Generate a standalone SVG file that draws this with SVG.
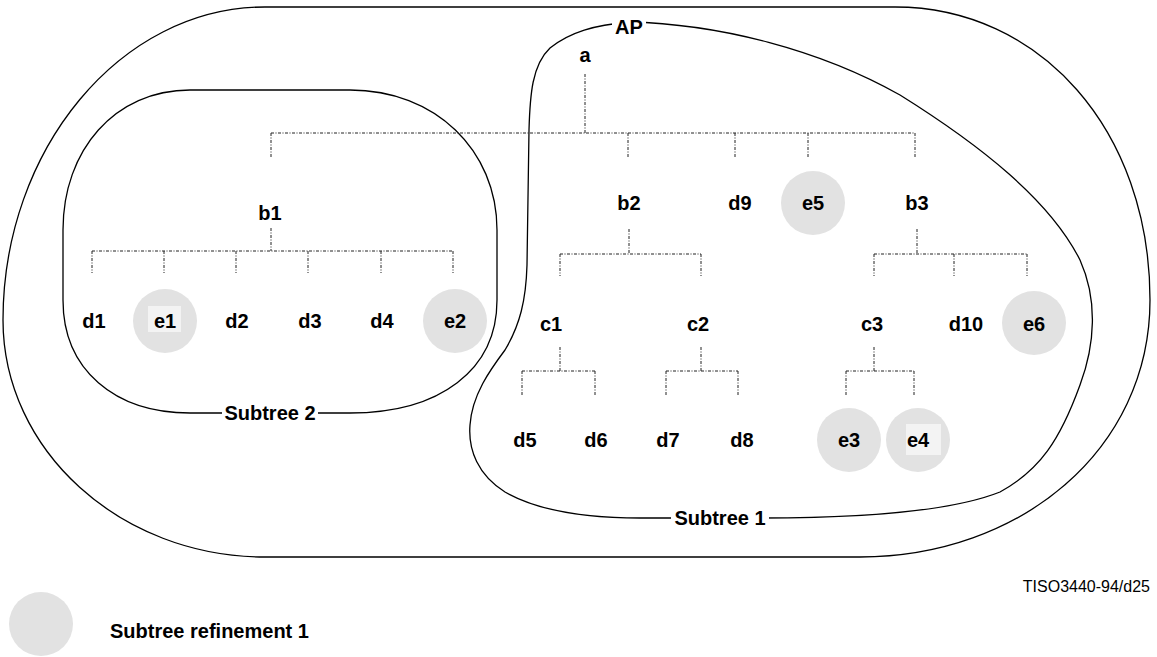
<svg xmlns="http://www.w3.org/2000/svg" width="1157" height="657" viewBox="0 0 1157 657">
<style>
.lbl{font-family:"Liberation Sans",Arial,sans-serif;font-weight:bold;font-size:20px;fill:#000;text-anchor:middle}
.bnd{fill:none;stroke:#000;stroke-width:1.3}
.con{fill:none;stroke:#222;stroke-width:1;stroke-dasharray:3 1.5 1 1.5}
.ref{fill:#e2e2e2}
.hl{fill:#f3f3f3}
</style>
<rect width="1157" height="657" fill="#fff"/>
<g id="boundaries">
<path id="ap-boundary" class="bnd" d="M265,7 H895 C1040,7 1150,130 1150,300 C1150,450 1020,557 860,557 H265 C120,557 3,450 3,320 C3,150 120,7 265,7 Z"/>
<path id="subtree2-boundary" class="bnd" d="M190,90 H350 C435,90 497,150 497,230 V300 C497,370 440,413 350,413 H190 C115,413 63,370 63,300 V230 C63,150 115,90 190,90 Z"/>
<path id="subtree1-boundary" class="bnd" d="M629,22 C720,24 820,50 900,95 C980,145 1050,200 1080,260 C1098,300 1095,345 1080,385 C1060,440 1040,470 1000,492 C950,512 860,518 760,518 L640,518 C590,518 540,512 505,492 C478,475 468,450 470,425 C472,395 490,370 505,350 C520,325 526,300 527,265 L529,130 C530,95 532,65 550,48 C570,32 595,25 629,22 Z"/>
<rect x="612" y="12" width="34" height="24" fill="#fff"/>
<text class="lbl" x="629" y="34">AP</text>
<rect x="222" y="402" width="96" height="22" fill="#fff"/>
<text class="lbl" x="270" y="420">Subtree 2</text>
<rect x="671" y="507" width="98" height="22" fill="#fff"/>
<text class="lbl" x="720" y="525">Subtree 1</text>
</g>
<g id="connectors">
<path class="con" d="M585,74 V133 M271,133 H915 M271,133 V157 M628,133 V157 M735,133 V157 M808,133 V157 M915,133 V157"/>
<path class="con" d="M271,228 V251 M92,251 H453 M92,251 V273 M164,251 V273 M236,251 V273 M308,251 V273 M381,251 V273 M453,251 V273"/>
<path class="con" d="M629,229 V254 M560,254 H701 M560,254 V276 M701,254 V276"/>
<path class="con" d="M917,229 V254 M874,254 H1027 M874,254 V276 M954,254 V276 M1027,254 V276"/>
<path class="con" d="M560,347 V371 M522,371 H595 M522,371 V395 M595,371 V395"/>
<path class="con" d="M701,347 V371 M666,371 H738 M666,371 V395 M738,371 V395"/>
<path class="con" d="M874,347 V371 M846,371 H914 M846,371 V395 M914,371 V395"/>
</g>
<g id="node-a"><text class="lbl" x="585" y="62">a</text></g>
<g id="node-b1"><text class="lbl" x="270" y="220">b1</text></g>
<g id="node-b2"><text class="lbl" x="629" y="210">b2</text></g>
<g id="node-d9"><text class="lbl" x="740" y="210">d9</text></g>
<g id="node-e5"><circle class="ref" cx="813" cy="203" r="32"/><text class="lbl" x="813" y="210">e5</text></g>
<g id="node-b3"><text class="lbl" x="917" y="210">b3</text></g>
<g id="node-d1"><text class="lbl" x="94" y="328">d1</text></g>
<g id="node-e1"><circle class="ref" cx="165" cy="321" r="32"/><rect class="hl" x="148" y="306" width="33" height="26"/><text class="lbl" x="165" y="328">e1</text></g>
<g id="node-d2"><text class="lbl" x="237" y="328">d2</text></g>
<g id="node-d3"><text class="lbl" x="310" y="328">d3</text></g>
<g id="node-d4"><text class="lbl" x="382" y="328">d4</text></g>
<g id="node-e2"><circle class="ref" cx="455" cy="321" r="32"/><text class="lbl" x="455" y="328">e2</text></g>
<g id="node-c1"><text class="lbl" x="551" y="331">c1</text></g>
<g id="node-c2"><text class="lbl" x="698" y="331">c2</text></g>
<g id="node-c3"><text class="lbl" x="872" y="331">c3</text></g>
<g id="node-d10"><text class="lbl" x="966" y="331">d10</text></g>
<g id="node-e6"><circle class="ref" cx="1034" cy="323" r="32"/><text class="lbl" x="1034" y="331">e6</text></g>
<g id="node-d5"><text class="lbl" x="525" y="447">d5</text></g>
<g id="node-d6"><text class="lbl" x="596" y="447">d6</text></g>
<g id="node-d7"><text class="lbl" x="668" y="447">d7</text></g>
<g id="node-d8"><text class="lbl" x="742" y="447">d8</text></g>
<g id="node-e3"><circle class="ref" cx="849" cy="440" r="32"/><text class="lbl" x="849" y="447">e3</text></g>
<g id="node-e4"><circle class="ref" cx="918" cy="440" r="32"/><rect class="hl" x="906" y="424" width="35" height="31"/><text class="lbl" x="918" y="447">e4</text></g>
<g id="legend">
<circle class="ref" cx="41" cy="624" r="32"/>
<text class="lbl" x="110" y="638" style="text-anchor:start">Subtree refinement 1</text>
</g>
<text x="1150" y="592" style="font-family:'Liberation Sans',Arial,sans-serif;font-size:16px;text-anchor:end;fill:#000">TISO3440-94/d25</text>
</svg>
